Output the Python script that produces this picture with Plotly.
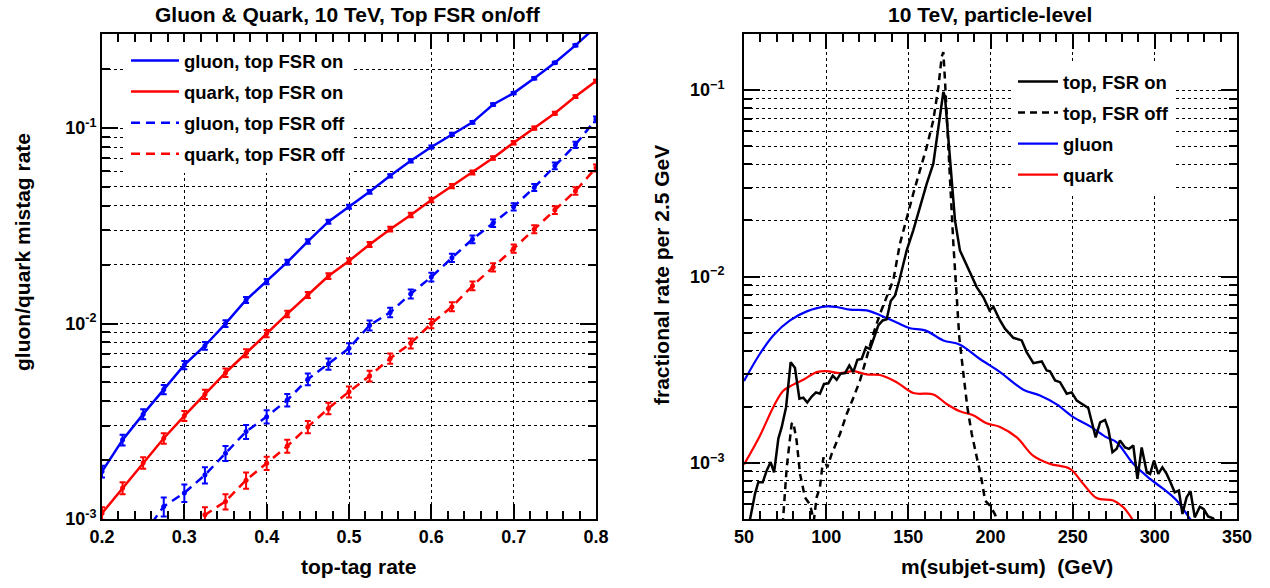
import plotly.graph_objects as go

# ---------------- Left panel data ----------------
tag_rate = [0.2, 0.225, 0.25, 0.275, 0.3, 0.325, 0.35, 0.375, 0.4, 0.425, 0.45, 0.475,
            0.5, 0.525, 0.55, 0.575, 0.6, 0.625, 0.65, 0.675, 0.7, 0.725, 0.75, 0.775, 0.8]
gluon_on = [1.75e-3, 2.54e-3, 3.44e-3, 4.6e-3, 6.14e-3, 7.7e-3, 1.0e-2, 1.32e-2, 1.64e-2, 2.06e-2,
            2.63e-2, 3.32e-2, 3.96e-2, 4.72e-2, 5.7e-2, 6.8e-2, 8.0e-2, 9.3e-2, 0.107, 0.132,
            0.151, 0.180, 0.216, 0.265, 0.33]
gluon_on_err = [1.2e-4, 1.6e-4, 2.0e-4, 2.5e-4, 3.0e-4, 3.5e-4, 4.0e-4, 4.6e-4, 5.0e-4, 6.0e-4,
                7.0e-4, 8.0e-4, 9.0e-4, 1.0e-3, 1.1e-3, 1.3e-3, 1.4e-3, 1.6e-3, 1.8e-3, 2.0e-3,
                2.2e-3, 2.5e-3, 2.8e-3, 3.2e-3, 3.6e-3]
quark_on = [1.07e-3, 1.44e-3, 1.94e-3, 2.59e-3, 3.37e-3, 4.35e-3, 5.6e-3, 7.05e-3, 8.9e-3, 1.12e-2,
            1.40e-2, 1.75e-2, 2.09e-2, 2.54e-2, 3.04e-2, 3.59e-2, 4.29e-2, 5.05e-2, 5.93e-2, 7.03e-2,
            8.42e-2, 0.100, 0.119, 0.145, 0.174]
quark_on_err = [8e-5, 1.0e-4, 1.3e-4, 1.6e-4, 2.0e-4, 2.4e-4, 2.8e-4, 3.3e-4, 3.8e-4, 4.4e-4,
                5.0e-4, 5.8e-4, 6.5e-4, 7.4e-4, 8.4e-4, 9.5e-4, 1.1e-3, 1.2e-3, 1.35e-3, 1.5e-3,
                1.7e-3, 1.9e-3, 2.1e-3, 2.4e-3, 2.7e-3]
gluon_off = [None, None, 8.3e-4, 1.16e-3, 1.36e-3, 1.68e-3, 2.17e-3, 2.80e-3, 3.34e-3, 4.06e-3,
             5.19e-3, 6.21e-3, 7.47e-3, 9.8e-3, 1.14e-2, 1.42e-2, 1.73e-2, 2.17e-2, 2.70e-2, 3.26e-2,
             3.96e-2, 4.97e-2, 6.41e-2, 8.22e-2, 0.111]
gluon_off_err = [0, 0, 1.0e-4, 1.3e-4, 1.4e-4, 1.6e-4, 1.9e-4, 2.3e-4, 2.6e-4, 3.0e-4,
                 3.6e-4, 4.1e-4, 4.7e-4, 5.8e-4, 6.4e-4, 7.5e-4, 8.8e-4, 1.05e-3, 1.25e-3, 1.45e-3,
                 1.7e-3, 2.0e-3, 2.5e-3, 3.0e-3, 3.8e-3]
quark_off = [None, None, None, None, 8.0e-4, 1.05e-3, 1.23e-3, 1.58e-3, 1.93e-3, 2.36e-3,
             2.96e-3, 3.68e-3, 4.48e-3, 5.39e-3, 6.63e-3, 7.92e-3, 1.0e-2, 1.22e-2, 1.56e-2, 1.94e-2,
             2.42e-2, 3.04e-2, 3.81e-2, 4.77e-2, 6.26e-2]
quark_off_err = [0, 0, 0, 0, 8e-5, 1.0e-4, 1.1e-4, 1.5e-4, 1.5e-4, 1.8e-4,
                 2.1e-4, 2.5e-4, 2.9e-4, 3.4e-4, 4.0e-4, 4.6e-4, 5.5e-4, 6.5e-4, 8e-4, 9.5e-4,
                 1.15e-3, 1.4e-3, 1.7e-3, 2.1e-3, 2.6e-3]

# ---------------- Right panel data ----------------
top_on_m = [51.25, 53.7, 56.7, 58.7, 61.4, 63.8, 66.2, 68.3, 70.9, 72.9, 75.6, 77.0, 78.4, 81.0,
            83.7, 86.1, 88.5, 91.2, 93.8, 96.2, 98.7, 101.3, 104.0, 106.4, 108.8, 111.5, 114.1,
            116.5, 119.0, 121.6, 124.2, 126.7, 129.1, 131.7, 134.4, 136.8, 139.3, 141.9, 144.5,
            149.0, 153.0, 157.1, 161.2, 165.2, 167.3, 169.3, 171.3, 172.3, 174.4, 176.4, 178.4,
            181.4, 186.5, 191.6, 195.7, 199.4, 201.8, 205.8, 208.8, 213.9, 219.0, 222.0, 226.1,
            231.2, 234.2, 236.2, 239.3, 242.3, 246.4, 249.4, 252.5, 255.5, 259.5, 264.0, 266.7,
            269.7, 271.7, 274.2, 276.8, 278.8, 281.9, 284.3, 286.9, 289.4, 292.0, 295.1, 297.1,
            299.5, 302.1, 304.6, 307.2, 309.5, 312.1, 314.6, 316.8, 319.3, 321.7, 324.3, 327.4,
            329.8, 332.4, 335.4, 338.0]
top_on_v = [4.3e-4, 5.0e-4, 6.82e-4, 7.87e-4, 7.87e-4, 9.09e-4, 1.01e-3, 8.9e-4, 1.35e-3, 1.55e-3,
            1.99e-3, 2.55e-3, 3.47e-3, 3.24e-3, 2.21e-3, 2.24e-3, 2.11e-3, 2.27e-3, 2.39e-3, 2.35e-3,
            2.65e-3, 2.67e-3, 2.94e-3, 2.79e-3, 3.01e-3, 3.03e-3, 3.33e-3, 3.07e-3, 3.57e-3, 3.61e-3,
            4.18e-3, 4.08e-3, 4.73e-3, 5.46e-3, 5.81e-3, 5.90e-3, 7.38e-3, 7.92e-3, 9.52e-3,
            1.38e-2, 1.77e-2, 2.36e-2, 3.15e-2, 4.03e-2, 5.38e-2, 7.18e-2, 9.77e-2, 9.2e-2, 5.38e-2,
            3.02e-2, 2.0e-2, 1.38e-2, 1.10e-2, 8.77e-3, 7.74e-3, 6.58e-3, 6.87e-3, 5.81e-3, 5.25e-3,
            4.69e-3, 4.54e-3, 3.93e-3, 3.43e-3, 3.50e-3, 3.13e-3, 3.10e-3, 2.77e-3, 2.71e-3, 2.35e-3,
            2.39e-3, 2.16e-3, 2.07e-3, 1.97e-3, 1.37e-3, 1.65e-3, 1.70e-3, 1.52e-3, 1.14e-3, 1.19e-3,
            1.32e-3, 1.21e-3, 1.19e-3, 1.24e-3, 8.2e-4, 1.21e-3, 8.9e-4, 8.73e-4, 1.03e-3, 8.73e-4,
            9.47e-4, 8.73e-4, 7.87e-4, 6.95e-4, 7.1e-4, 5.32e-4, 6.53e-4, 7.05e-4, 5.1e-4, 5.82e-4,
            5.65e-4, 5.16e-4, 5.05e-4, 4.6e-4]
top_off_m = [73.0, 76.0, 79.0, 80.0, 82.0, 84.1, 87.1, 90.2, 92.5, 94.2, 96.2, 98.3, 100.7, 103.4,
             108.4, 112.5, 116.5, 120.6, 124.7, 128.7, 132.8, 136.9, 140.9, 144.9, 149.0, 153.0,
             157.1, 161.2, 165.2, 168.3, 170.3, 171.3, 172.3, 173.3, 175.4, 177.4, 179.4, 181.0,
             183.5, 185.9, 188.6, 191.6, 194.7, 196.7, 199.7, 202.7, 205.5]
top_off_v = [4.0e-4, 9.47e-4, 1.62e-3, 1.65e-3, 1.32e-3, 8.73e-4, 6.53e-4, 5.97e-4, 4.9e-4, 6.53e-4,
             7.4e-4, 1.07e-3, 9.47e-4, 1.12e-3, 1.43e-3, 1.83e-3, 2.23e-3, 2.77e-3, 3.69e-3, 4.93e-3,
             6.31e-3, 7.74e-3, 9.6e-3, 1.50e-2, 2.08e-2, 2.78e-2, 3.72e-2, 4.96e-2, 6.89e-2, 0.104,
             0.151, 0.160, 0.113, 7.18e-2, 3.28e-2, 1.50e-2, 8.1e-3, 4.73e-3, 3.01e-3, 1.99e-3,
             1.43e-3, 1.07e-3, 8.03e-4, 6.28e-4, 5.9e-4, 5.3e-4, 4.5e-4]
gluon_m = [50, 59.7, 67.8, 78.0, 88.2, 100.3, 106.4, 114.5, 124.7, 132.8, 142.9, 151.0, 160.2,
           171.3, 181.4, 193.6, 205.8, 220.0, 230.1, 240.3, 250.4, 260.6, 270.7, 276.8, 286.9,
           297.1, 305.2, 313.3, 321.4, 325.0]
gluon_v = [2.75e-3, 3.85e-3, 4.83e-3, 5.81e-3, 6.5e-3, 6.91e-3, 6.86e-3, 6.64e-3, 6.58e-3, 6.2e-3,
           5.66e-3, 5.28e-3, 5.14e-3, 4.54e-3, 4.31e-3, 3.61e-3, 3.07e-3, 2.47e-3, 2.30e-3, 2.06e-3,
           1.76e-3, 1.57e-3, 1.37e-3, 1.29e-3, 9.88e-4, 8.2e-4, 7.25e-4, 6.28e-4, 5.0e-4, 4.5e-4]
quark_m = [50, 59.7, 67.8, 73.9, 80.0, 86.1, 94.2, 100.3, 108.4, 116.5, 124.7, 132.8, 142.9, 153.0,
           165.2, 173.3, 181.4, 189.5, 197.6, 205.8, 216.0, 226.1, 236.2, 248.4, 256.5, 264.6,
           274.7, 280.8, 287.5]
quark_v = [9.8e-4, 1.40e-3, 1.99e-3, 2.44e-3, 2.63e-3, 2.79e-3, 3.07e-3, 3.11e-3, 3.03e-3, 3.11e-3,
           2.98e-3, 2.96e-3, 2.71e-3, 2.37e-3, 2.33e-3, 2.07e-3, 1.89e-3, 1.80e-3, 1.63e-3, 1.56e-3,
           1.37e-3, 1.09e-3, 9.88e-4, 9.29e-4, 7.71e-4, 6.48e-4, 6.28e-4, 5.78e-4, 4.8e-4]

BLUE = "#0000ff"
RED = "#ff0000"
FONT = "Liberation Sans"
FS = 21       # titles
TFS = 18      # tick labels
LFS = 18.5    # legends

fig = go.Figure()

# ----- left panel traces -----
left_series = [
    ("gluon, top FSR on", gluon_on, gluon_on_err, BLUE, "solid"),
    ("quark, top FSR on", quark_on, quark_on_err, RED, "solid"),
    ("gluon, top FSR off", gluon_off, gluon_off_err, BLUE, "9px,6px"),
    ("quark, top FSR off", quark_off, quark_off_err, RED, "9px,6px"),
]
for i, (name, vals, errs, col, dash) in enumerate(left_series):
    fig.add_trace(go.Scatter(
        x=tag_rate, y=vals, mode="lines", name=name, legend="legend",
        legendgroup=f"l{i}", legendrank=i,
        line=dict(color=col, width=2.5, dash=dash),
        xaxis="x", yaxis="y"))
    fig.add_trace(go.Scatter(
        x=tag_rate, y=vals, mode="markers", showlegend=False,
        marker=dict(color=col, size=5),
        error_y=dict(type="data", array=errs, visible=True, color=col, thickness=2, width=3),
        xaxis="x", yaxis="y"))

# ----- right panel traces -----
fig.add_trace(go.Scatter(x=gluon_m, y=gluon_v, mode="lines", name="gluon", legend="legend2",
                         legendgroup="r2", legendrank=2,
                         line=dict(color=BLUE, width=2.2, shape="spline", smoothing=1.0),
                         xaxis="x2", yaxis="y2"))
fig.add_trace(go.Scatter(x=quark_m, y=quark_v, mode="lines", name="quark", legend="legend2",
                         legendgroup="r3", legendrank=3,
                         line=dict(color=RED, width=2.2, shape="spline", smoothing=1.0),
                         xaxis="x2", yaxis="y2"))
fig.add_trace(go.Scatter(x=top_off_m, y=top_off_v, mode="lines", name="top, FSR off", legend="legend2",
                         legendgroup="r1", legendrank=1,
                         line=dict(color="black", width=2.5, dash="7px,5px"),
                         xaxis="x2", yaxis="y2"))
fig.add_trace(go.Scatter(x=top_on_m, y=top_on_v, mode="lines", name="top, FSR on", legend="legend2",
                         legendgroup="r0", legendrank=0,
                         line=dict(color="black", width=2.5),
                         xaxis="x2", yaxis="y2"))

# The page body margin is removed by a small post script, so the figure fills the window.
W, H = 1270, 588


def px(x):
    return x / W


def py(y):
    return 1 - y / H


tickfont = dict(family=FONT, size=TFS, color="black", weight="bold")
grid = dict(showgrid=True, gridcolor="black", gridwidth=0.8, griddash="dot")

common_ax = dict(showline=True, linecolor="black", linewidth=2, mirror="allticks",
                 ticks="inside", tickcolor="black", tickwidth=1.5, tickfont=tickfont,
                 zeroline=False, automargin=False)

ydom = [py(519), py(34)]

left_minor = [k * 10.0 ** e for e in (-3, -2, -1) for k in range(2, 10) if k * 10.0 ** e < 0.303]
right_minor = [k * 10.0 ** e for e in (-4, -3, -2, -1) for k in range(2, 10)
               if 5e-4 <= k * 10.0 ** e <= 0.2]

fig.update_layout(
    width=W, height=H, margin=dict(l=0, r=0, t=0, b=0, autoexpand=False),
    paper_bgcolor="white", plot_bgcolor="white",
    showlegend=True,
    xaxis=dict(domain=[px(102), px(596)], range=[0.2, 0.8], anchor="y",
               tickmode="array", tickvals=[0.2, 0.3, 0.4, 0.5, 0.6, 0.7, 0.8],
               ticktext=["0.2", "0.3", "0.4", "0.5", "0.6", "0.7", "0.8"], ticklen=15,
               minor=dict(dtick=0.02, tick0=0.2, ticks="inside", ticklen=8, tickcolor="black",
                          tickwidth=1.5, showgrid=False),
               **grid, **common_ax),
    yaxis=dict(domain=ydom, type="log", range=[-3, -0.5186], anchor="x",
               tickmode="array", tickvals=[1e-3, 1e-2, 1e-1],
               ticktext=["10<sup>-3</sup>", "10<sup>-2</sup>", "10<sup>-1</sup>"], ticklen=16,
               minor=dict(tickmode="array", tickvals=left_minor, ticks="inside", ticklen=8,
                          tickcolor="black", tickwidth=1.5, **grid),
               **grid, **common_ax),
    xaxis2=dict(domain=[px(744), px(1237)], range=[50, 350], anchor="y2",
                tickmode="array", tickvals=[50, 100, 150, 200, 250, 300, 350],
                ticktext=["50", "100", "150", "200", "250", "300", "350"], ticklen=15,
                minor=dict(dtick=10, tick0=50, ticks="inside", ticklen=8, tickcolor="black",
                           tickwidth=1.5, showgrid=False),
                **grid, **common_ax),
    yaxis2=dict(domain=ydom, type="log", range=[-3.301, -0.699], anchor="x2",
                tickmode="array", tickvals=[1e-3, 1e-2, 1e-1],
                ticktext=["10<sup>\u22123</sup>", "10<sup>\u22122</sup>", "10<sup>\u22121</sup>"],
                ticklen=16, ticklabelstandoff=14,
                minor=dict(tickmode="array", tickvals=right_minor, ticks="inside", ticklen=8,
                           tickcolor="black", tickwidth=1.5, **grid),
                **grid, **common_ax),
    legend=dict(x=px(126), y=py(42), xanchor="left", yanchor="top", bgcolor="white",
                borderwidth=0, font=dict(family=FONT, size=LFS, color="black", weight="bold"),
                traceorder="grouped", tracegroupgap=4, itemwidth=48),
    legend2=dict(x=px(1013), y=py(63), xanchor="left", yanchor="top", bgcolor="white",
                 borderwidth=0, font=dict(family=FONT, size=LFS, color="black", weight="bold"),
                 traceorder="grouped", tracegroupgap=4, itemwidth=40),
)

ann_font = dict(family=FONT, size=FS, color="black", weight="bold")
annotations = [
    dict(text="Gluon & Quark, 10 TeV, Top FSR on/off", x=px(348), y=py(15)),
    dict(text="10 TeV, particle-level", x=px(990), y=py(15)),
    dict(text="top-tag rate", x=px(359), y=py(566)),
    dict(text="m(subjet-sum)\u00a0\u00a0(GeV)", x=px(1007), y=py(566)),
    dict(text="gluon/quark mistag rate", x=px(22), y=py(252), textangle=-90),
    dict(text="fractional rate per 2.5 GeV", x=px(661), y=py(275), textangle=-90),
]
for a in annotations:
    fig.add_annotation(xref="paper", yref="paper", showarrow=False, xanchor="center",
                       yanchor="middle", font=ann_font, **a)

fig.write_html("out.html", config={"displayModeBar": False},
               post_script="document.body.style.margin='0px';document.body.style.overflow='hidden';")
